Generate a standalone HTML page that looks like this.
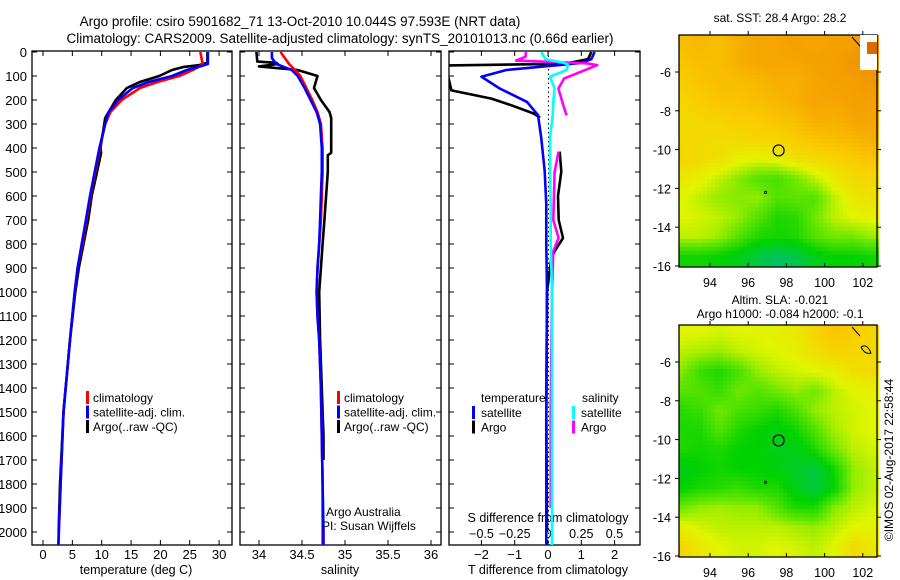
<!DOCTYPE html>
<html><head><meta charset="utf-8"><style>
body{margin:0;background:#fff}
svg{display:block;font-family:"Liberation Sans",sans-serif}
text{fill:#000}
</style></head><body>
<svg id="c" width="900" height="580">
<text x="300" y="26" font-size="13.5" text-anchor="middle">Argo profile: csiro 5901682_71 13-Oct-2010 10.044S 97.593E (NRT data)</text>
<text x="340" y="43" font-size="13.5" text-anchor="middle">Climatology: CARS2009. Satellite-adjusted climatology: synTS_20101013.nc (0.66d earlier)</text>
<text x="780" y="22" font-size="12" text-anchor="middle">sat. SST: 28.4 Argo: 28.2</text>
<text x="780" y="304" font-size="12" text-anchor="middle">Altim. SLA: -0.021</text>
<text x="780" y="318" font-size="12" text-anchor="middle">Argo h1000: -0.084 h2000: -0.1</text>
<text transform="translate(893,460) rotate(-90)" font-size="12" text-anchor="middle">©IMOS 02-Aug-2017 22:58:44</text>
</svg>
<script>
// ---- profile data ----
const tDepth=[0,50,62,75,100,125,150,200,250,300,400,500,600,700,800,900,1000,1200,1500,1800,2000,2070];
const tClim=[26.8,27.2,26.5,25.5,23.2,19.5,16.5,13.4,11.5,10.6,9.7,8.9,8.1,7.4,6.7,5.9,5.4,4.6,3.5,3.0,2.7,2.6];
const tSat=[28.1,28.1,26.5,24.5,22.0,18.0,15.3,12.8,11.2,10.6,9.6,8.8,8.0,7.3,6.6,5.9,5.4,4.6,3.5,3.0,2.7,2.6];
const tArgoDepth=[0,45,55,62,75,100,125,150,200,250,275,400,420,500,600,700,800,900,1000,1200,1500,1800,2000];
const tArgo=[28.0,28.0,26.5,24.0,22.0,19.8,16.5,14.3,12.4,11.2,10.6,9.8,9.9,9.2,8.3,7.7,6.9,6.1,5.5,4.6,3.5,2.9,2.65];
const sDepth=[0,25,50,75,100,150,200,250,300,400,500,600,700,800,900,1000,1100,1200,1400,1600,1800,2000,2070];
const sClim=[34.25,34.3,34.35,34.42,34.48,34.55,34.62,34.68,34.72,34.74,34.74,34.73,34.72,34.70,34.68,34.67,34.68,34.70,34.72,34.73,34.74,34.74,34.74];
const sSat=[34.15,34.15,34.2,34.38,34.45,34.53,34.6,34.67,34.71,34.73,34.73,34.72,34.71,34.70,34.68,34.67,34.68,34.70,34.72,34.73,34.74,34.75,34.75];
const sArgoDepth=[0,40,45,50,60,75,100,150,200,250,275,420,430,500,600,700,800,900,1000,1200,1400,1500,1600,1700];
const sArgo=[33.97,33.98,34.2,34.22,34.0,34.45,34.68,34.64,34.72,34.82,34.84,34.84,34.80,34.80,34.78,34.76,34.74,34.72,34.70,34.71,34.73,34.74,34.75,34.75];
const dDepth=[0,30,45,53,75,103,152,208,263,360,497,636,800,1000,1500,2000,2070];
const dTSat=[1.4,1.3,1.0,0.45,-1.25,-2.0,-1.45,-0.63,-0.3,-0.2,-0.1,-0.05,-0.05,-0.03,-0.05,-0.05,-0.05];
const dTArgoDepth=[0,30,49,56,100,160,194,222,256,273];
const dTArgo=[1.3,1.2,0.5,-3.0,-3.0,-2.9,-1.7,-1.1,-0.44,-0.24];
const dTArgo2Depth=[415,498,600,700,775,830,860,1000,1500,2000];
const dTArgo2=[0.35,0.4,0.3,0.32,0.45,0.2,0.1,-0.03,-0.05,-0.03];
const dSSat=[-0.05,-0.02,0.12,0.15,0.14,0.015,0.05,0.04,0.035,0.015,0.015,0.02,0.02,0.03,0.03,0.03,0.03];
const dSArgoDepth=[0,20,36,47,55,111,152,222,264];
const dSArgo=[-0.165,-0.17,-0.24,0.29,0.37,0.12,0.078,0.115,0.14];
const dSArgo2Depth=[415,500,700,775,830,1000,1500,1900];
const dSArgo2=[0.08,0.05,0.04,0.08,0.04,0.03,0.02,0.02];
const depthTicks=[0,100,200,300,400,500,600,700,800,900,1000,1100,1200,1300,1400,1500,1600,1700,1800,1900,2000];
const tempTicks=[0,5,10,15,20,25,30];
const salTicks=[34,34.5,35,35.5,36];
const dTTicks=[-2,-1,0,1,2];
const dSTicks=[-0.5,-0.25,0,0.25,0.5];
const dSTickLabels=["−0.5","−0.25","0","0.25","0.5"];
// ---- map data (coarse grids, rows lat -4.5..-15.5, cols lon 92.5..102.5) ----
const sstGrid=[
[0.8,0.82,0.8,0.85,0.88,0.88,0.9,0.88,0.9,0.9,0.95],
[0.78,0.8,0.8,0.85,0.88,0.88,0.88,0.9,0.9,0.92,0.92],
[0.75,0.78,0.8,0.8,0.82,0.85,0.85,0.88,0.9,0.9,0.92],
[0.72,0.75,0.78,0.78,0.8,0.82,0.85,0.88,0.88,0.9,0.9],
[0.7,0.72,0.72,0.75,0.75,0.78,0.8,0.85,0.85,0.88,0.88],
[0.72,0.7,0.7,0.7,0.72,0.72,0.75,0.78,0.8,0.82,0.85],
[0.72,0.7,0.68,0.62,0.6,0.62,0.68,0.7,0.72,0.75,0.78],
[0.65,0.62,0.55,0.48,0.4,0.38,0.45,0.55,0.65,0.7,0.72],
[0.6,0.55,0.5,0.48,0.5,0.4,0.42,0.4,0.55,0.65,0.68],
[0.6,0.58,0.55,0.5,0.4,0.3,0.32,0.45,0.55,0.6,0.62],
[0.55,0.55,0.5,0.4,0.3,0.28,0.3,0.4,0.45,0.45,0.5],
[0.28,0.28,0.25,0.2,0.12,0.05,0.1,0.2,0.25,0.25,0.28]];
const slaGrid=[
[0.6,0.6,0.58,0.6,0.6,0.62,0.65,0.72,0.78,0.75,0.72],
[0.55,0.52,0.5,0.55,0.58,0.6,0.62,0.68,0.72,0.72,0.7],
[0.48,0.35,0.3,0.38,0.5,0.55,0.58,0.6,0.62,0.68,0.7],
[0.4,0.4,0.35,0.45,0.4,0.45,0.5,0.45,0.55,0.6,0.62],
[0.32,0.35,0.45,0.38,0.35,0.3,0.38,0.5,0.55,0.58,0.6],
[0.3,0.3,0.4,0.3,0.25,0.22,0.28,0.4,0.52,0.58,0.6],
[0.3,0.28,0.3,0.25,0.25,0.2,0.2,0.3,0.45,0.55,0.58],
[0.2,0.25,0.28,0.25,0.25,0.22,0.18,0.12,0.28,0.5,0.55],
[0.25,0.3,0.32,0.35,0.3,0.3,0.2,0.12,0.25,0.5,0.55],
[0.45,0.5,0.52,0.5,0.5,0.4,0.3,0.3,0.48,0.55,0.58],
[0.62,0.58,0.55,0.55,0.55,0.55,0.52,0.5,0.55,0.6,0.62],
[0.72,0.65,0.6,0.58,0.58,0.6,0.58,0.55,0.6,0.7,0.65]];
const lonTicks=[94,96,98,100,102];
const latTicks=[-6,-8,-10,-12,-14,-16];
const argoLon=97.593, argoLat=-10.044;

const svg=document.getElementById('c');
const NS='http://www.w3.org/2000/svg';
function mk(tag,attrs,parent){const e=document.createElementNS(NS,tag);for(const k in attrs)e.setAttribute(k,attrs[k]);(parent||svg).appendChild(e);return e;}
function txt(x,y,s,size,anchor,parent){const e=mk('text',{x:x,y:y,'font-size':size,'text-anchor':anchor||'middle'},parent);e.textContent=s;return e;}

const Y0=51, Y1=545;
const yD=d=>52+d*0.24;
function panel(x0,x1,name){
  const r=mk('rect',{x:x0,y:Y0,width:x1-x0,height:Y1-Y0,fill:'none',stroke:'#000','stroke-width':1.3});
  
  
  depthTicks.forEach(d=>{mk('line',{x1:x0,x2:x0+5,y1:yD(d),y2:yD(d),stroke:'#000'});mk('line',{x1:x1,x2:x1-5,y1:yD(d),y2:yD(d),stroke:'#000'});});
}
function line(xs,ds,xf,color,name,w){
  const pts=xs.map((v,i)=>xf(v).toFixed(1)+','+yD(ds[i]).toFixed(1)).join(' ');
  const p=mk('polyline',{points:pts,fill:'none',stroke:color,'stroke-width':w||2.6,'stroke-linejoin':'round'});
  
  
  return p;
}
function clip(id,x0,x1){const cp=mk('clipPath',{id:id});mk('rect',{x:x0,y:Y0,width:x1-x0,height:Y1-Y0},cp);}

// Panel 1 temperature
const xT=t=>43+t*5.87;
panel(32,232,'temperature-panel');
depthTicks.forEach(d=>{const e=txt(27,yD(d)+5,String(d),13,'end');});
tempTicks.forEach(t=>{mk('line',{x1:xT(t),x2:xT(t),y1:Y1,y2:Y1-5,stroke:'#000'});mk('line',{x1:xT(t),x2:xT(t),y1:Y0,y2:Y0+5,stroke:'#000'});txt(xT(t),Y1+14,String(t),13);});
txt(136,574,'temperature (deg C)',12.5);
clip('c1',32,232);
const g1=mk('g',{'clip-path':'url(#c1)'});
g1.appendChild(line(tArgo,tArgoDepth,xT,'#000','argo-temperature-line'));
g1.appendChild(line(tClim,tDepth,xT,'#f00','climatology-temperature-line'));
g1.appendChild(line(tSat,tDepth,xT,'#00f','satellite-temperature-line'));
function legend(x,y){
  [['#f00','climatology'],['#00f','satellite-adj. clim.'],['#000','Argo(..raw -QC)']].forEach((l,i)=>{
    mk('rect',{x:x,y:y+i*14.5-11,width:3,height:13,fill:l[0]});
    const t=txt(x+7,y+i*14.5,l[1],12,'start');
  });
}
legend(86,402);

// Panel 2 salinity
const xS=s=>259+(s-34)*86;
panel(240,441,'salinity-panel');
salTicks.forEach(s=>{mk('line',{x1:xS(s),x2:xS(s),y1:Y1,y2:Y1-5,stroke:'#000'});mk('line',{x1:xS(s),x2:xS(s),y1:Y0,y2:Y0+5,stroke:'#000'});txt(xS(s),Y1+14,String(s),13);});
txt(340,574,'salinity',12.5);
clip('c2',240,441);
const g2=mk('g',{'clip-path':'url(#c2)'});
g2.appendChild(line(sArgo,sArgoDepth,xS,'#000','argo-salinity-line'));
g2.appendChild(line(sClim,sDepth,xS,'#f00','climatology-salinity-line'));
g2.appendChild(line(sSat,sDepth,xS,'#00f','satellite-salinity-line'));
legend(337,402);
txt(326,516,'Argo Australia',12,'start');
txt(322,530,'PI: Susan Wijffels',12,'start');

// Panel 3 differences
const xDT=v=>548+v*33.3;
const xDS=v=>548+v*133;
panel(449,640,'difference-panel');
mk('line',{x1:548.5,x2:548.5,y1:Y0,y2:Y1,stroke:'#000','stroke-dasharray':'1.5,3'});
dTTicks.forEach(v=>{mk('line',{x1:xDT(v),x2:xDT(v),y1:Y1,y2:Y1-5,stroke:'#000'});mk('line',{x1:xDT(v),x2:xDT(v),y1:Y0,y2:Y0+5,stroke:'#000'});txt(xDT(v),Y1+14,String(v).replace('-','−'),13);});
txt(548,574,'T difference from climatology',12.5);
dSTicks.forEach((v,i)=>{txt(xDS(v),Y1-7,dSTickLabels[i],12.5);});
txt(548,522,'S difference from climatology',12.5);
clip('c3',449,640);
const g3=mk('g',{'clip-path':'url(#c3)'});
g3.appendChild(line(dTArgo,dTArgoDepth,xDT,'#000','argo-t-diff-line'));
g3.appendChild(line(dTArgo2,dTArgo2Depth,xDT,'#000','argo-t-diff-line-deep'));
g3.appendChild(line(dTSat,dDepth,xDT,'#00f','satellite-t-diff-line'));
g3.appendChild(line(dSArgo,dSArgoDepth,xDS,'#f0f','argo-s-diff-line'));
g3.appendChild(line(dSArgo2,dSArgo2Depth,xDS,'#f0f','argo-s-diff-line-deep'));
g3.appendChild(line(dSSat,dDepth,xDS,'#0ff','satellite-s-diff-line'));
txt(481,402,'temperature',12,'start');
txt(582,402,'salinity',12,'start');
[['#00f','satellite',472],['#000','Argo',472],['#0ff','satellite',572],['#f0f','Argo',572]].forEach((l,i)=>{
  const yy=417+(i%2)*14.5;
  mk('rect',{x:l[2],y:yy-11,width:3,height:13,fill:l[0]});
  const t=txt(l[2]+9,yy,l[1],12,'start');
});

// ---- maps ----
const stops=[[0,[0,190,120]],[0.25,[0,210,0]],[0.45,[110,232,0]],[0.6,[225,245,0]],[0.75,[250,205,0]],[0.9,[245,160,0]],[1,[220,110,0]]];
function cmap(v){v=Math.max(0,Math.min(1,v));for(let i=1;i<stops.length;i++){if(v<=stops[i][0]){const a=stops[i-1],b=stops[i],f=(v-a[0])/(b[0]-a[0]);return 'rgb('+a[1].map((c,k)=>Math.round(c+(b[1][k]-c)*f)).join(',')+')';}}return 'rgb(220,110,0)';}
function sample(grid,r,c){
  r=Math.max(0,Math.min(grid.length-1,r));c=Math.max(0,Math.min(grid[0].length-1,c));
  const r0=Math.floor(r),c0=Math.floor(c),r1=Math.min(r0+1,grid.length-1),c1=Math.min(c0+1,grid[0].length-1),fr=r-r0,fc=c-c0;
  return grid[r0][c0]*(1-fr)*(1-fc)+grid[r0][c1]*(1-fr)*fc+grid[r1][c0]*fr*(1-fc)+grid[r1][c1]*fr*fc;
}
function map(grid,top,name){
  const xL=lon=>710+(lon-94)*19.1;
  const yL=lat=>top+37+(-6-lat)*19.4;
  const X0=679,X1=877,Ytop=top,Ybot=top+232;
  const g=mk('g',{});
  
  
  const step=4;
  for(let y=Ytop;y<Ybot;y+=step){for(let x=X0;x<X1;x+=step){
    const lon=94+(x+step/2-710)/19.1, lat=-6-(y+step/2-(top+37))/19.4;
    const c=lon-92.5, r=(-4.5-lat);
    mk('rect',{x:x,y:y,width:step,height:step,fill:cmap(sample(grid,r,c))},g);
  }}
  mk('rect',{x:X0,y:Ytop,width:X1-X0,height:Ybot-Ytop,fill:'none',stroke:'#000','stroke-width':1.3});
  lonTicks.forEach(l=>{mk('line',{x1:xL(l),x2:xL(l),y1:Ybot,y2:Ybot-4,stroke:'#000'});mk('line',{x1:xL(l),x2:xL(l),y1:Ytop,y2:Ytop-4,stroke:'#000'});txt(xL(l),Ybot+20,String(l),12.5);});
  latTicks.forEach(l=>{mk('line',{x1:X0,x2:X0-4,y1:yL(l),y2:yL(l),stroke:'#000'});mk('line',{x1:X1,x2:X1+4,y1:yL(l),y2:yL(l),stroke:'#000'});txt(X0-8,yL(l)+5,String(l),12.5,'end');});
  const ci=mk('circle',{cx:xL(argoLon),cy:yL(argoLat),r:5.5,fill:'none',stroke:'#000','stroke-width':1.2});
  
  
  mk('rect',{x:xL(96.9)-1,y:yL(-12.2)-1,width:2,height:2,fill:'none',stroke:'#000','stroke-width':0.8});
  mk('path',{d:`M${X1-25},${Ytop+2} l8,9 M${X1-16},${Ytop+22} q6,-4 10,6 q-6,2 -10,-6`,fill:'none',stroke:'#000'});
}
map(sstGrid,35,'sst-map');
mk('rect',{x:860,y:35,width:17,height:35,fill:'#fff'});
mk('rect',{x:867,y:42,width:10,height:12,fill:'#d86a00'});
map(slaGrid,325,'sla-map');
</script>
</body></html>
